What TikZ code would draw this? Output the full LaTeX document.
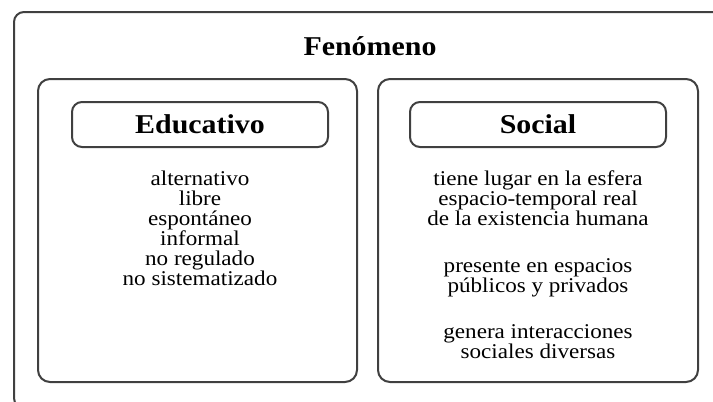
\documentclass[tikz,border=0pt]{standalone}
\usepackage{fontspec}
\setmainfont{Liberation Serif}[FakeStretch=1.1]
\usetikzlibrary{positioning}
\begin{document}
\begin{tikzpicture}
        [x=0.5pt,y=-0.5pt,
        frame/.style={draw=black!75,line width=1pt,rounded corners=6pt},
        titlebox/.style={frame,rounded corners=5pt,minimum width=128pt,
          minimum height=22.5pt,font=\fontsize{13.6}{15}\selectfont\bfseries},
        items/.style={align=center,font=\fontsize{10.5}{10}\selectfont}]
        \clip (0,0) rectangle (713,402);

        % outer frame, runs past the page on the right and below
        \draw[frame,rounded corners=5pt] (14,12) rectangle (724,408);
        \node[font=\fontsize{13.6}{15}\selectfont\bfseries] (fen) at (370,46) {Fenómeno};

        % two panels
        \draw[frame] (38,79) rectangle (357,382);
        \draw[frame] (378,79) rectangle (698,382);

        \node[titlebox] (edu) at (200,124.5) {Educativo};
        \node[titlebox] (soc) at (538,124.5) {Social};

        \node[items,below=8pt of edu] (edulist)
          {alternativo\\ libre\\ espontáneo\\ informal\\ no regulado\\ no sistematizado};
        \node[items,below=8pt of soc] (soclist)
          {tiene lugar en la esfera\\ espacio-temporal real\\ de la existencia humana\\[13.2pt]
           presente en espacios\\ públicos y privados\\[13pt]
           genera interacciones\\ sociales diversas};
      \end{tikzpicture}
\end{document}
